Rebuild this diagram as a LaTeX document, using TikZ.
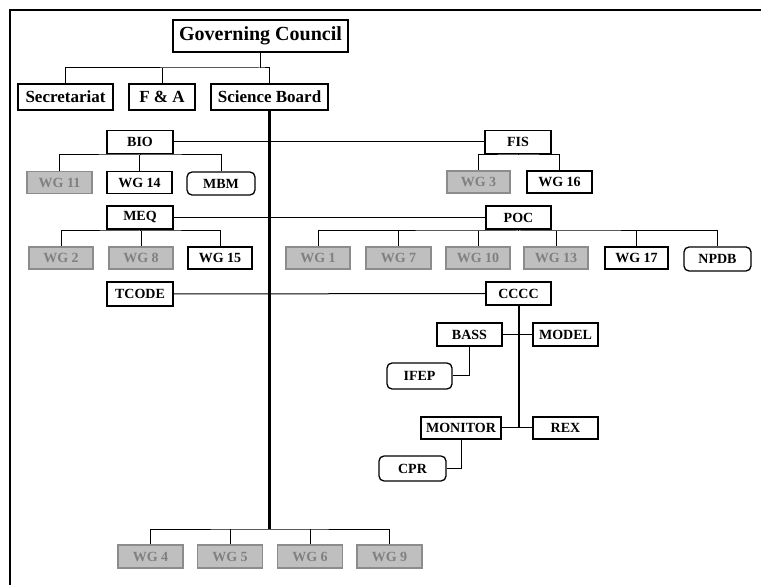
\documentclass[tikz,border=0pt]{standalone}
\usepackage{fontspec}
\setmainfont{Liberation Serif}
\begin{document}
\begin{tikzpicture}[x=1pt,y=-1pt,
  box/.style={draw=black,line width=1.3pt,fill=white,inner sep=0pt,font=\fontsize{14}{14}\selectfont\bfseries,minimum width=65pt,minimum height=23pt},
  gbox/.style={box,draw=gray!90,fill=black!25,text=black!50},
  rbox/.style={box,rounded corners=5pt},
  big/.style={box,font=\fontsize{17}{17}\selectfont\bfseries,minimum height=26pt},
  conn/.style={line width=1pt},
  trunk/.style={line width=2.8pt}]
\useasboundingbox (0,0) rectangle (761,585);
\draw[line width=2.8pt] (10,585) -- (10,10) -- (761,10);

% top level
\node[box,font=\fontsize{20}{20}\selectfont\bfseries,minimum width=175pt,minimum height=32pt] (gc) at (260.5,36) {Governing Council};
\node[big,minimum width=95pt] (sec) at (65.5,97) {Secretariat};
\node[big,minimum width=66pt] (fa) at (162,97) {F \& A};
\node[big,minimum width=117pt] (sb) at (269.5,97) {Science Board};
\coordinate (gcj) at (260.5,68);
\draw[conn,line width=1.8pt] (gc.south) -- (gcj);
\draw[conn] (sec.north) |- (gcj) -| (sb.north);
\draw[conn] (fa.north) -- (fa.north |- gcj);

% trunk
\coordinate (bj) at (269.5,529);
\draw[trunk] (sb.south) -- (bj);

% BIO / FIS
\node[box,minimum width=66pt] (bio) at (140,142) {BIO};
\node[box,minimum width=66pt] (fis) at (518,142) {FIS};
\draw[conn] (bio.east) -- (fis.west);
\coordinate (bioj) at (140,155);
\node[gbox,minimum height=22pt] (wg11) at (59.5,182.5) {WG 11};
\node[box,minimum height=22pt] (wg14) at (139.5,182.5) {WG 14};
\node[rbox,minimum width=68pt] (mbm) at (221,183.5) {MBM};
\draw[conn] (bio.south) -- (bioj);
\draw[conn] (wg11.north) |- (bioj) -| (mbm.north);
\draw[conn] (wg14.north) -- (wg14.north |- bioj);
\coordinate (fisj) at (518,155);
\node[gbox,minimum width=63pt,minimum height=22pt] (wg3) at (478.5,182) {WG 3};
\node[box,minimum height=22pt] (wg16) at (559.5,182) {WG 16};
\draw[conn] (fis.south) -- (fisj);
\draw[conn] (wg3.north) |- (fisj) -| (wg16.north);

% MEQ / POC
\node[box,minimum width=66pt] (meq) at (140,217.5) {MEQ};
\node[box] (poc) at (518.5,217.5) {POC};
\draw[conn] (meq.east) -- (poc.west);
\coordinate (meqj) at (140,231);
\node[gbox,minimum width=64pt,minimum height=22pt] (wg2) at (61,258) {WG 2};
\node[gbox,minimum width=64pt,minimum height=22pt] (wg8) at (141,258) {WG 8};
\node[box,minimum width=64pt,minimum height=22pt] (wg15) at (220,258) {WG 15};
\draw[conn] (meq.south) -- (meqj);
\draw[conn] (wg2.north) |- (meqj) -| (wg15.north);
\draw[conn] (wg8.north) -- (wg8.north |- meqj);
\coordinate (pocj) at (518.5,231);
\node[gbox,minimum width=64pt,minimum height=22pt] (wg1) at (318,258) {WG 1};
\node[gbox,minimum height=22pt] (wg7) at (398.5,258) {WG 7};
\node[gbox,minimum width=64pt,minimum height=22pt] (wg10) at (478,258) {WG 10};
\node[gbox,minimum width=64pt,minimum height=22pt] (wg13) at (556,258) {WG 13};
\node[box,minimum width=63pt,minimum height=22pt] (wg17) at (636.5,258) {WG 17};
\node[rbox,minimum width=67pt,minimum height=24pt] (npdb) at (717.5,259) {NPDB};
\draw[conn] (poc.south) -- (pocj);
\draw[conn] (wg1.north) |- (pocj) -| (npdb.north);
\foreach \n in {wg7,wg10,wg13,wg17}
  \draw[conn] (\n.north) -- (\n.north |- pocj);

% TCODE / CCCC
\node[box,minimum width=66pt,minimum height=24pt] (tcode) at (140,294) {TCODE};
\node[box] (cccc) at (518.5,293.5) {CCCC};
\draw[conn] (tcode.east) -- (cccc.west);
\coordinate (cj) at (518.5,428);
\draw[line width=2pt] (cccc.south) -- (cj);
\node[box] (bass) at (469.5,334.5) {BASS};
\node[box] (model) at (565.5,334.5) {MODEL};
\draw[conn] (bass.east) -- (model.west);
\node[rbox,minimum height=26pt] (ifep) at (419.5,376) {IFEP};
\draw[conn] (bass.south) |- (ifep.east);
\node[box,minimum width=80pt,minimum height=22pt] (monitor) at (461,428) {MONITOR};
\node[box,minimum height=22pt] (rex) at (565.5,428) {REX};
\draw[conn] (monitor.east) -- (rex.west);
\node[rbox,minimum width=67pt,minimum height=25pt] (cpr) at (412.5,468.5) {CPR};
\draw[conn] (monitor.south) |- (cpr.east);

% bottom WGs
\node[gbox] (wg4) at (150.5,556.5) {WG 4};
\node[gbox] (wg5) at (230,556.5) {WG 5};
\node[gbox] (wg6) at (310,556.5) {WG 6};
\node[gbox] (wg9) at (389.5,556.5) {WG 9};
\draw[conn] (wg4.north) |- (bj) -| (wg9.north);
\draw[conn] (wg5.north) -- (wg5.north |- bj);
\draw[conn] (wg6.north) -- (wg6.north |- bj);
\end{tikzpicture}
\end{document}
